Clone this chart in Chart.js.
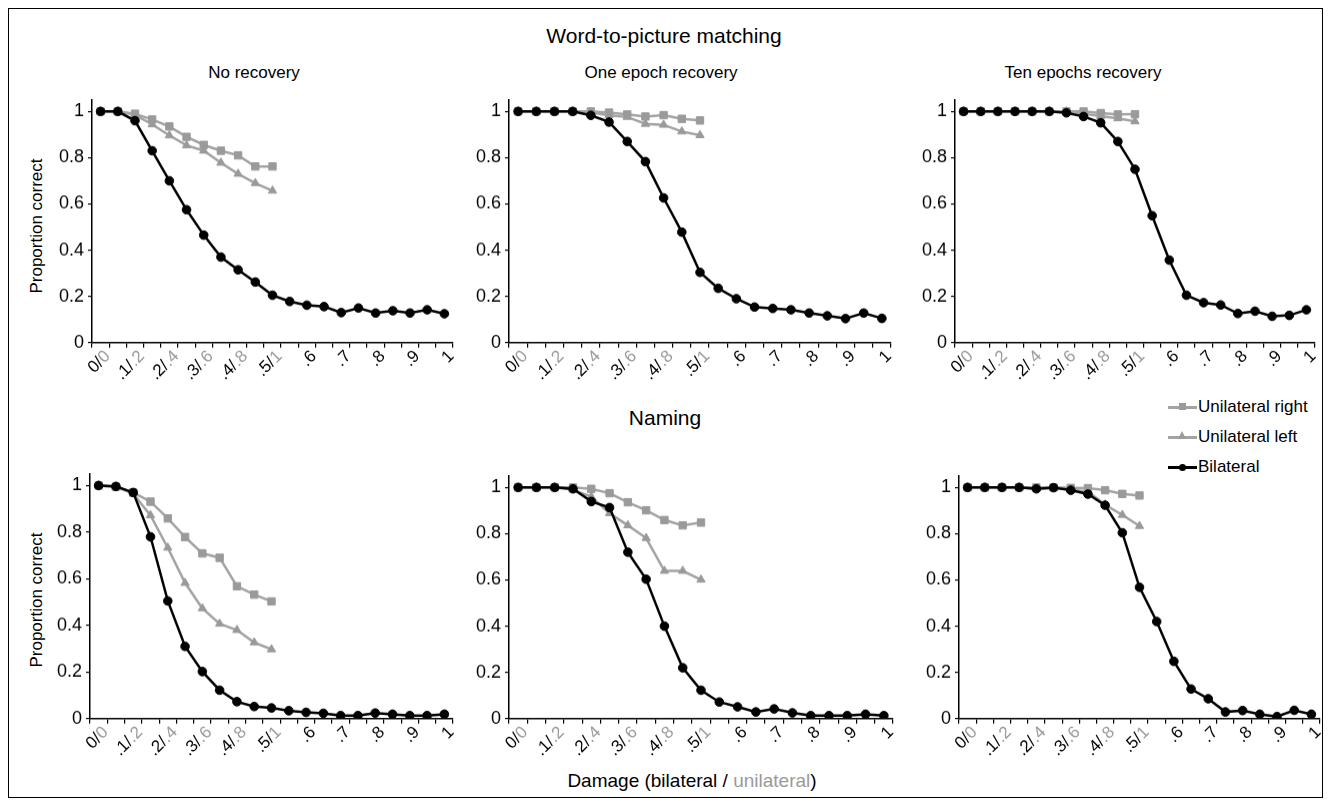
<!DOCTYPE html>
<html>
<head>
<meta charset="utf-8">
<script src="https://cdn.jsdelivr.net/npm/chart.js@4/dist/chart.umd.min.js"></script>
<style>
  body { margin: 0; background: #fff; font-family: "Liberation Sans", Arial, sans-serif; }
  #wrap { position: relative; width: 1330px; height: 806px; overflow: hidden; }
  #frame { position: absolute; left: 8px; top: 8px; width: 1315px; height: 790px; border: 1.5px solid #000; box-sizing: border-box; }
  .txt { position: absolute; transform: translate(-50%, -50%); white-space: nowrap; color: #000; }
  .big { font-size: 21px; }
  .sub { font-size: 17px; }
  .ytitle { position: absolute; font-size: 17px; white-space: nowrap; transform: translate(-50%, -50%) rotate(-90deg); }
  canvas { position: absolute; }
  .grey { color: #9a9a9a; }
  .leg { position: absolute; left: 1168px; width: 160px; font-size: 17px; height: 20px; line-height: 20px; white-space: nowrap; }
  .leg .ln { position: absolute; left: 0; top: 9px; width: 29px; height: 2.5px; }
  .leg .mk { position: absolute; }
  .leg span.t { position: absolute; left: 30px; top: 0; }
</style>
</head>
<body>
<div id="wrap">
  <div id="frame"></div>

  <div class="txt big" style="left:664px; top:36px;">Word-to-picture matching</div>
  <div class="txt sub" style="left:254px; top:73px;">No recovery</div>
  <div class="txt sub" style="left:661px; top:73px;">One epoch recovery</div>
  <div class="txt sub" style="left:1083px; top:73px;">Ten epochs recovery</div>
  <div class="txt big" style="left:665px; top:418px;">Naming</div>
  <div class="txt" style="left:692px; top:781px; font-size:19px;">Damage (bilateral / <span class="grey">unilateral</span>)</div>
  <div class="ytitle" style="left:37px; top:226px;">Proportion correct</div>
  <div class="ytitle" style="left:37px; top:600px;">Proportion correct</div>

  <div class="leg" style="top:397px;">
    <div class="ln" style="background:#a3a3a3;"></div>
    <div class="mk" style="left:11px; top:6px; width:7px; height:7px; background:#9a9a9a;"></div>
    <span class="t">Unilateral right</span>
  </div>
  <div class="leg" style="top:427px;">
    <div class="ln" style="background:#a3a3a3;"></div>
    <div class="mk" style="left:10px; top:4px; width:0; height:0; border-left:4.5px solid transparent; border-right:4.5px solid transparent; border-bottom:8px solid #9a9a9a;"></div>
    <span class="t">Unilateral left</span>
  </div>
  <div class="leg" style="top:457px;">
    <div class="ln" style="background:#000;"></div>
    <div class="mk" style="left:11px; top:6.5px; width:7px; height:7px; border-radius:50%; background:#000;"></div>
    <span class="t">Bilateral</span>
  </div>

  <canvas id="c1"></canvas>
  <canvas id="c2"></canvas>
  <canvas id="c3"></canvas>
  <canvas id="c4"></canvas>
  <canvas id="c5"></canvas>
  <canvas id="c6"></canvas>
</div>

<script>
// ---------- data ----------
// bilateral damage levels (x categories)
const damageLevels = ['0', '.05', '.1', '.15', '.2', '.25', '.3', '.35', '.4', '.45', '.5',
                      '.55', '.6', '.65', '.7', '.75', '.8', '.85', '.9', '.95', '1'];
// tick labels shown on every second category
const tickBilateral = ['0', '.1', '.2', '.3', '.4', '.5', '.6', '.7', '.8', '.9', '1'];
const tickUnilateral = ['0', '.2', '.4', '.6', '.8', '1'];

const seriesNames = ['Bilateral', 'Unilateral right', 'Unilateral left'];

// Word-to-picture matching
const wpmNoRecBilateral = [1.0, 1.0, 0.96, 0.83, 0.70, 0.575, 0.465, 0.37, 0.315, 0.262, 0.205,
                           0.178, 0.162, 0.156, 0.13, 0.15, 0.128, 0.138, 0.128, 0.142, 0.125];
const wpmNoRecRight = [1.0, 1.0, 0.99, 0.965, 0.935, 0.89, 0.855, 0.83, 0.81, 0.762, 0.762];
const wpmNoRecLeft = [1.0, 1.0, 0.985, 0.944, 0.896, 0.853, 0.83, 0.778, 0.73, 0.69, 0.657];

const wpmOneBilateral = [1.0, 1.0, 1.0, 1.0, 0.983, 0.954, 0.87, 0.783, 0.626, 0.478, 0.304,
                         0.235, 0.19, 0.154, 0.148, 0.142, 0.128, 0.116, 0.104, 0.128, 0.105];
const wpmOneRight = [1.0, 1.0, 1.0, 1.0, 1.0, 0.995, 0.987, 0.978, 0.984, 0.968, 0.961];
const wpmOneLeft = [1.0, 1.0, 1.0, 1.0, 0.996, 0.983, 0.976, 0.946, 0.942, 0.913, 0.897];

const wpmTenBilateral = [1.0, 1.0, 1.0, 1.0, 1.0, 1.0, 0.994, 0.978, 0.951, 0.87, 0.75,
                         0.549, 0.357, 0.205, 0.173, 0.163, 0.126, 0.136, 0.114, 0.118, 0.142];
const wpmTenRight = [1.0, 1.0, 1.0, 1.0, 1.0, 1.0, 1.0, 1.0, 0.993, 0.987, 0.988];
const wpmTenLeft = [1.0, 1.0, 1.0, 1.0, 1.0, 1.0, 1.0, 0.99, 0.98, 0.97, 0.957];

// Naming
const namNoRecBilateral = [1.0, 0.996, 0.97, 0.78, 0.505, 0.31, 0.202, 0.122, 0.073, 0.052, 0.046,
                           0.034, 0.027, 0.023, 0.013, 0.013, 0.024, 0.019, 0.013, 0.013, 0.019];
const namNoRecRight = [1.0, 0.995, 0.97, 0.931, 0.859, 0.779, 0.709, 0.69, 0.568, 0.532, 0.503];
const namNoRecLeft = [1.0, 0.995, 0.965, 0.872, 0.733, 0.582, 0.473, 0.407, 0.38, 0.327, 0.297];

const namOneBilateral = [1.0, 1.0, 1.0, 0.994, 0.939, 0.913, 0.72, 0.603, 0.40, 0.22, 0.123,
                         0.072, 0.051, 0.029, 0.042, 0.025, 0.013, 0.013, 0.013, 0.019, 0.013];
const namOneRight = [1.0, 1.0, 1.0, 1.0, 0.994, 0.975, 0.936, 0.901, 0.859, 0.836, 0.848];
const namOneLeft = [1.0, 1.0, 1.0, 0.99, 0.96, 0.888, 0.836, 0.781, 0.639, 0.639, 0.601];

const namTenBilateral = [1.0, 1.0, 1.0, 1.0, 0.994, 0.999, 0.988, 0.971, 0.923, 0.804, 0.568,
                         0.42, 0.248, 0.128, 0.086, 0.029, 0.035, 0.019, 0.009, 0.036, 0.019];
const namTenRight = [1.0, 1.0, 1.0, 1.0, 1.0, 1.0, 0.998, 0.997, 0.988, 0.972, 0.965];
const namTenLeft = [1.0, 1.0, 1.0, 1.0, 0.995, 0.998, 0.99, 0.982, 0.925, 0.881, 0.833];

// ---------- layout (chart area of each panel, in page pixels) ----------
const panels = [
    { id: 'c1', L: 92, R: 453, T: 100, B: 341.5, data: [wpmNoRecBilateral, wpmNoRecRight, wpmNoRecLeft] },
    { id: 'c2', L: 509, R: 891, T: 100, B: 341.5, data: [wpmOneBilateral, wpmOneRight, wpmOneLeft] },
    { id: 'c3', L: 955, R: 1315, T: 100, B: 341.5, data: [wpmTenBilateral, wpmTenRight, wpmTenLeft] },
    { id: 'c4', L: 90, R: 453, T: 474, B: 718, data: [namNoRecBilateral, namNoRecRight, namNoRecLeft] },
    { id: 'c5', L: 509, R: 893, T: 476, B: 718, data: [namOneBilateral, namOneRight, namOneLeft] },
    { id: 'c6', L: 959, R: 1320, T: 476, B: 718, data: [namTenBilateral, namTenRight, namTenLeft] },
];

const Y_W = 45;     // y axis box width
const X_H = 55;     // x axis box height
const PAD = 14;

const FONT = '"Liberation Sans", Arial, sans-serif';
const GREY_MK = '#9a9a9a';
const GREY_LN = '#a3a3a3';

// x軸ラベルを二色（黒 = 両側 / 灰 = 片側）で描く
const twoColourTicks = {
    id: 'twoColourTicks',
    afterDraw(chart) {
        const xs = chart.scales.x;
        const ctx = chart.ctx;
        ctx.save();
        ctx.font = '17px ' + FONT;
        ctx.textAlign = 'right';
        ctx.textBaseline = 'middle';
        for (let k = 0; k < tickBilateral.length; k++) {
            const i = k * 2;
            const x = xs.getPixelForTick(i);
            const uni = k < tickUnilateral.length ? tickUnilateral[k] : '';
            const bil = tickBilateral[k] + (uni ? '/' : '');
            ctx.save();
            ctx.translate(x + 7, xs.top + 11);
            ctx.rotate(-Math.PI / 4);
            let w = 0;
            if (uni) {
                ctx.fillStyle = GREY_MK;
                ctx.fillText(uni, 0, 0);
                w = ctx.measureText(uni).width;
            }
            ctx.fillStyle = '#000';
            ctx.fillText(bil, -w, 0);
            ctx.restore();
        }
        ctx.restore();
    },
};

panels.forEach((p) => {
    const canvas = document.getElementById(p.id);
    let w = p.R - p.L + Y_W + PAD * 2;
    let h = p.B - p.T + X_H + PAD * 2;
    canvas.width = w;
    canvas.height = h;

    const chart = new Chart(canvas.getContext('2d'), {
        type: 'line',
        data: {
            labels: damageLevels,
            datasets: [
                {
                    label: seriesNames[0],
                    data: p.data[0],
                    borderColor: '#000',
                    backgroundColor: '#000',
                    borderWidth: 2.5,
                    pointStyle: 'circle',
                    pointRadius: 4.3,
                    pointBorderWidth: 1,
                    tension: 0,
                    order: 0,
                },
                {
                    label: seriesNames[1],
                    data: p.data[1],
                    borderColor: GREY_LN,
                    backgroundColor: GREY_MK,
                    pointBorderColor: GREY_MK,
                    borderWidth: 2.5,
                    pointStyle: 'rect',
                    pointRadius: 5.2,
                    pointBorderWidth: 1,
                    tension: 0,
                    order: 2,
                },
                {
                    label: seriesNames[2],
                    data: p.data[2],
                    borderColor: GREY_LN,
                    backgroundColor: GREY_MK,
                    pointBorderColor: GREY_MK,
                    borderWidth: 2.5,
                    pointStyle: 'triangle',
                    pointRadius: 4.8,
                    pointBorderWidth: 1,
                    tension: 0,
                    order: 1,
                },
            ],
        },
        options: {
            responsive: false,
            maintainAspectRatio: false,
            animation: false,
            events: [],
            layout: { padding: { top: PAD, right: PAD, left: PAD, bottom: 0 } },
            plugins: {
                legend: { display: false },
                tooltip: { enabled: false },
                title: { display: false },
            },
            scales: {
                x: {
                    type: 'category',
                    offset: true,
                    grid: { offset: true, drawOnChartArea: false, drawTicks: true, tickLength: 5, color: '#000', lineWidth: 1.2 },
                    border: { display: true, color: '#000', width: 1.5 },
                    ticks: { autoSkip: false, minRotation: 45, maxRotation: 45, color: 'rgba(0,0,0,0)', font: { family: FONT, size: 16 } },
                    afterFit: (scale) => { scale.height = X_H; },
                },
                y: {
                    min: 0,
                    max: 1.05,
                    grid: { drawOnChartArea: false, drawTicks: true, tickLength: 4, color: '#000', lineWidth: 1.2 },
                    border: { display: true, color: '#000', width: 1.5 },
                    ticks: {
                        stepSize: 0.2,
                        includeBounds: false,
                        color: '#000',
                        padding: 4,
                        font: { family: FONT, size: 18 },
                        callback: (v) => String(Number(v.toFixed(1))),
                    },
                    afterFit: (scale) => { scale.width = Y_W; },
                },
            },
        },
        plugins: [twoColourTicks],
    });

    // 描画領域をページ上の目標位置に合わせる
    const ca = chart.chartArea;
    const dw = (p.R - p.L) - (ca.right - ca.left);
    const dh = (p.B - p.T) - (ca.bottom - ca.top);
    if (Math.abs(dw) > 0.5 || Math.abs(dh) > 0.5) {
        chart.resize(w + dw, h + dh);
    }
    const ca2 = chart.chartArea;
    canvas.style.left = (p.L - ca2.left) + 'px';
    canvas.style.top = (p.T - ca2.top) + 'px';
});
</script>
</body>
</html>
